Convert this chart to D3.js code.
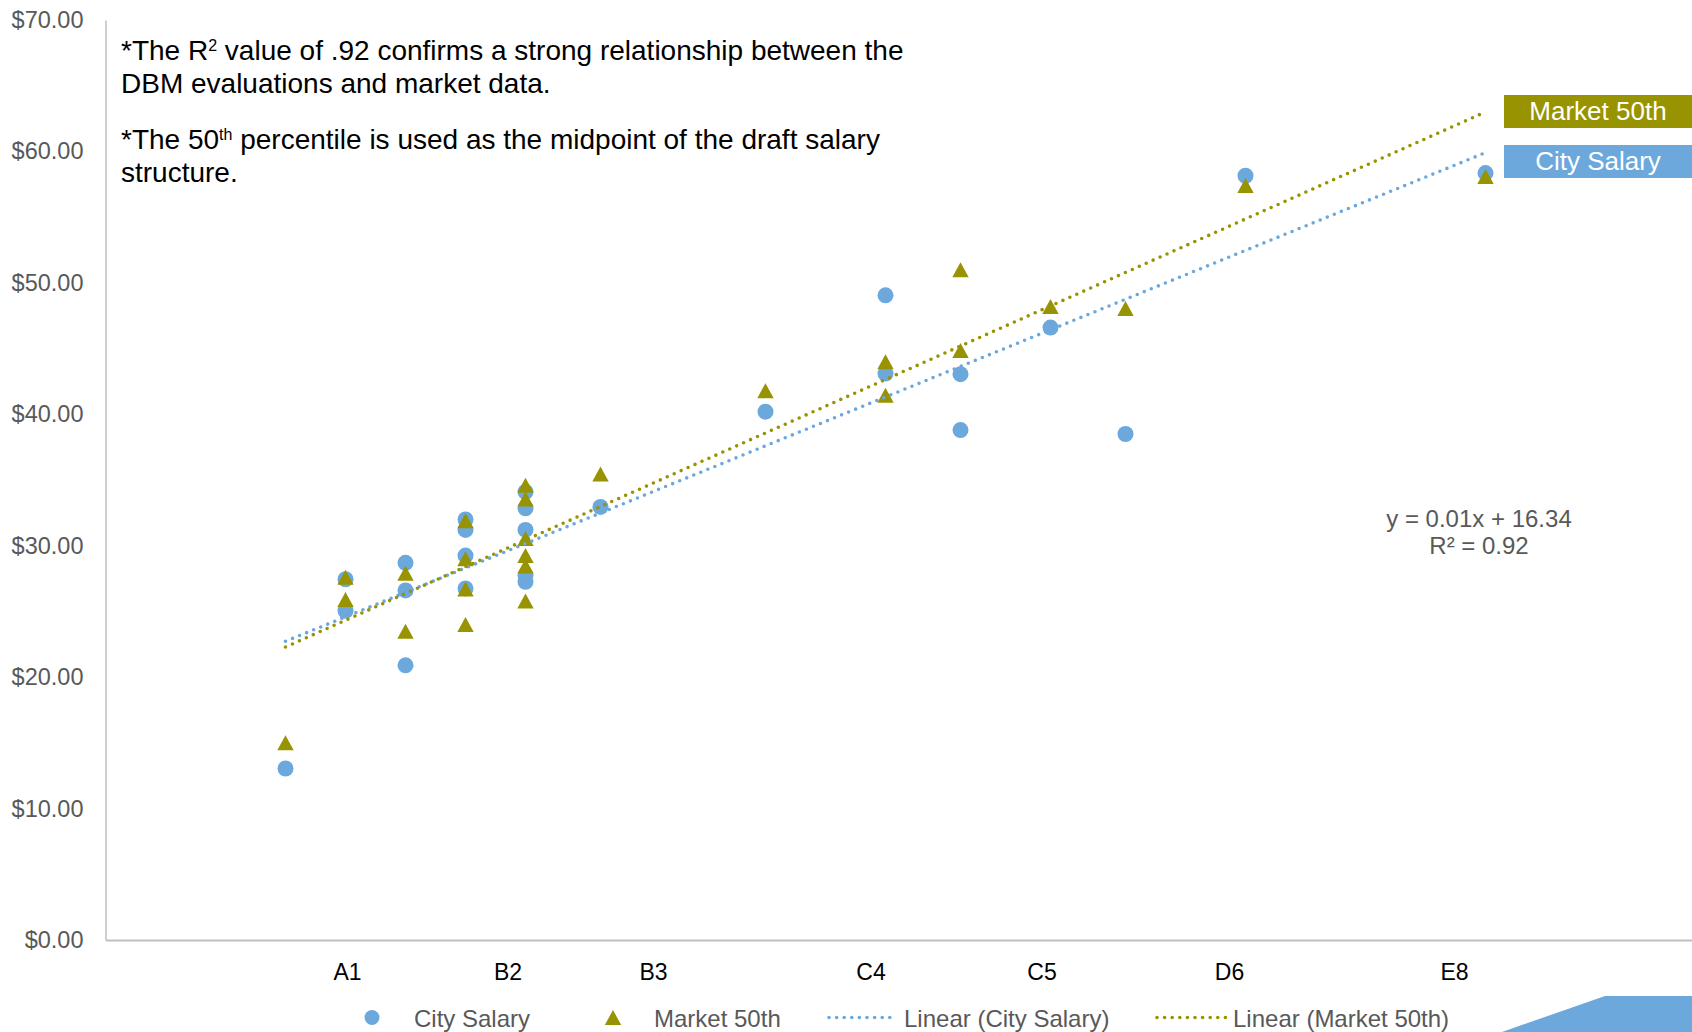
<!DOCTYPE html>
<html><head><meta charset="utf-8">
<script src="https://cdn.jsdelivr.net/npm/d3@7"></script>
<style>
html,body{margin:0;padding:0;background:#fff;}
svg{display:block;font-family:"Liberation Sans",Arial,sans-serif;}
</style></head><body>
<svg id="chart" width="1692" height="1032"></svg>
<script>
// ---- data ----
const seriesNames = ["City Salary", "Market 50th"];
const cityX = [600, 800, 800, 1000, 1000, 1000, 1200, 1200, 1200, 1200, 1400, 1400, 1400, 1400, 1400, 1650, 2200, 2600, 2600, 2850, 2850, 3150, 3400, 3800, 4600];
const cityY = [13.05, 27.45, 25.05, 28.7, 26.6, 20.9, 32.0, 31.2, 29.25, 26.75, 34.1, 32.85, 31.2, 27.75, 27.25, 32.95, 40.2, 49.05, 43.1, 43.05, 38.8, 46.6, 38.5, 58.15, 58.35];
const marketX = [600, 800, 800, 1000, 1000, 1200, 1200, 1200, 1200, 1400, 1400, 1400, 1400, 1400, 1400, 1650, 2200, 2600, 2600, 2850, 2850, 3150, 3400, 3800, 4600];
const marketY = [15.0, 27.6, 25.9, 27.9, 23.5, 31.9, 29.0, 26.7, 24.0, 34.6, 33.55, 30.55, 29.25, 28.45, 25.8, 35.45, 41.8, 44.0, 41.45, 51.0, 44.85, 48.2, 48.05, 57.4, 58.1];
const categories = ["A1", "B2", "B3", "C4", "C5", "D6", "E8"];
const categoryPoints = [805, 1340, 1825, 2550, 3120, 3745, 4495];
const yTicks = [0, 10, 20, 30, 40, 50, 60, 70];
const xDomain = [0, 5300];
const yDomain = [0, 70];
const equationLines = ["y = 0.01x + 16.34", "R\u00B2 = 0.92"];
const legendNames = ["City Salary", "Market 50th", "Linear (City Salary)", "Linear (Market 50th)"];

// ---- styles ----
const BLUE = "#6CA8DC", OLIVE = "#989300", GREY = "#595959", AXIS = "#BFBFBF";

const svg = d3.select("#chart");
const x = d3.scaleLinear().domain(xDomain).range([105.5, 1695.5]);
const y = d3.scaleLinear().domain(yDomain).range([940, 20]);

// decorative slide shape
svg.append("path").attr("d", "M1502,1032 L1605,996 L1692,996 L1692,1032 Z").attr("fill", BLUE);

// axes
const yAxis = svg.append("g").attr("transform", `translate(${x(0)},0)`)
  .call(d3.axisLeft(y).tickValues(yTicks).tickSize(0).tickPadding(22)
    .tickFormat(d => "$" + d.toFixed(2)));
yAxis.select(".domain").attr("stroke", AXIS).attr("stroke-width", 1.5);
yAxis.selectAll("text").attr("fill", GREY).attr("font-size", 23.5)
  .attr("font-family", "Liberation Sans, Arial, sans-serif");

const xAxis = svg.append("g").attr("transform", `translate(0,${y(0)})`)
  .call(d3.axisBottom(x).tickValues(categoryPoints).tickSize(0).tickPadding(24)
    .tickFormat((d, i) => categories[i]));
xAxis.select(".domain").attr("stroke", AXIS).attr("stroke-width", 2);
xAxis.selectAll("text").attr("fill", "#000").attr("font-size", 23)
  .attr("font-family", "Liberation Sans, Arial, sans-serif");

// annotation text
const ann = svg.append("g").attr("font-size", 28).attr("fill", "#000");
function supLine(yb, parts) {
  const t = ann.append("text").attr("x", 121).attr("y", yb);
  let shift = 0;
  parts.forEach(p => {
    if (p.sup) {
      t.append("tspan").attr("font-size", 16).attr("dy", -9).text(p.sup);
      shift = 9;
    } else {
      t.append("tspan").attr("dy", shift).text(p.t);
      shift = 0;
    }
  });
}
supLine(59.5, [{t: "*The R"}, {sup: "2"}, {t: " value of .92 confirms a strong relationship between the"}]);
supLine(93, [{t: "DBM evaluations and market data."}]);
supLine(149, [{t: "*The 50"}, {sup: "th"}, {t: " percentile is used as the midpoint of the draft salary"}]);
supLine(182, [{t: "structure."}]);

// markers
const tri = "M0,-7.5 L8.2,7.5 L-8.2,7.5 Z";
svg.append("g").selectAll("circle").data(cityX.map((v, i) => [v, cityY[i]])).join("circle")
  .attr("cx", d => x(d[0])).attr("cy", d => y(d[1])).attr("r", 8).attr("fill", BLUE);
svg.append("g").selectAll("path").data(marketX.map((v, i) => [v, marketY[i]])).join("path")
  .attr("d", tri).attr("transform", d => `translate(${x(d[0])},${y(d[1])})`).attr("fill", OLIVE);

// linear trendlines (least squares from the data)
function fit(xs, ys) {
  const mx = d3.mean(xs), my = d3.mean(ys);
  let sxy = 0, sxx = 0;
  xs.forEach((v, i) => { sxy += (v - mx) * (ys[i] - my); sxx += (v - mx) * (v - mx); });
  const b = sxy / sxx;
  return { b, a: my - b * mx, x0: d3.min(xs), x1: d3.max(xs) };
}
const line = d3.line().x(d => x(d[0])).y(d => y(d[1]));
[[cityX, cityY, BLUE], [marketX, marketY, OLIVE]].forEach(([xs, ys, c]) => {
  const f = fit(xs, ys);
  svg.append("path").attr("d", line([[f.x0, f.a + f.b * f.x0], [f.x1, f.a + f.b * f.x1]]))
    .attr("fill", "none").attr("stroke", c).attr("stroke-width", 3.6)
    .attr("stroke-linecap", "round").attr("stroke-dasharray", "0 7.6");
});

// equation label
const eq = svg.append("text").attr("text-anchor", "middle").attr("font-size", 24).attr("fill", GREY);
eq.append("tspan").attr("x", 1479).attr("y", 527).text(equationLines[0]);
eq.append("tspan").attr("x", 1479).attr("y", 554).text(equationLines[1]);

// series tag boxes on the right
const tags = [{name: seriesNames[1], c: OLIVE, y0: 95}, {name: seriesNames[0], c: BLUE, y0: 145}];
tags.forEach(t => {
  svg.append("rect").attr("x", 1504).attr("y", t.y0).attr("width", 190).attr("height", 33).attr("fill", t.c);
  svg.append("text").attr("x", 1598).attr("y", t.y0 + 25).attr("text-anchor", "middle")
    .attr("font-size", 26).attr("fill", "#fff").text(t.name);
});

// legend
const lg = svg.append("g").attr("font-size", 24).attr("fill", GREY);
const ly = 1017.5;
lg.append("circle").attr("cx", 372).attr("cy", ly).attr("r", 7.5).attr("fill", BLUE);
lg.append("text").attr("x", 414).attr("y", ly + 9).text(legendNames[0]);
lg.append("path").attr("d", tri).attr("transform", `translate(613,${ly})`).attr("fill", OLIVE);
lg.append("text").attr("x", 654).attr("y", ly + 9).text(legendNames[1]);
lg.append("line").attr("x1", 829).attr("x2", 897).attr("y1", ly).attr("y2", ly)
  .attr("stroke", BLUE).attr("stroke-width", 3.6).attr("stroke-linecap", "round").attr("stroke-dasharray", "0 7.6");
lg.append("text").attr("x", 904).attr("y", ly + 9).text(legendNames[2]);
lg.append("line").attr("x1", 1157).attr("x2", 1226).attr("y1", ly).attr("y2", ly)
  .attr("stroke", OLIVE).attr("stroke-width", 3.6).attr("stroke-linecap", "round").attr("stroke-dasharray", "0 7.6");
lg.append("text").attr("x", 1233).attr("y", ly + 9).text(legendNames[3]);
</script>
</body></html>
